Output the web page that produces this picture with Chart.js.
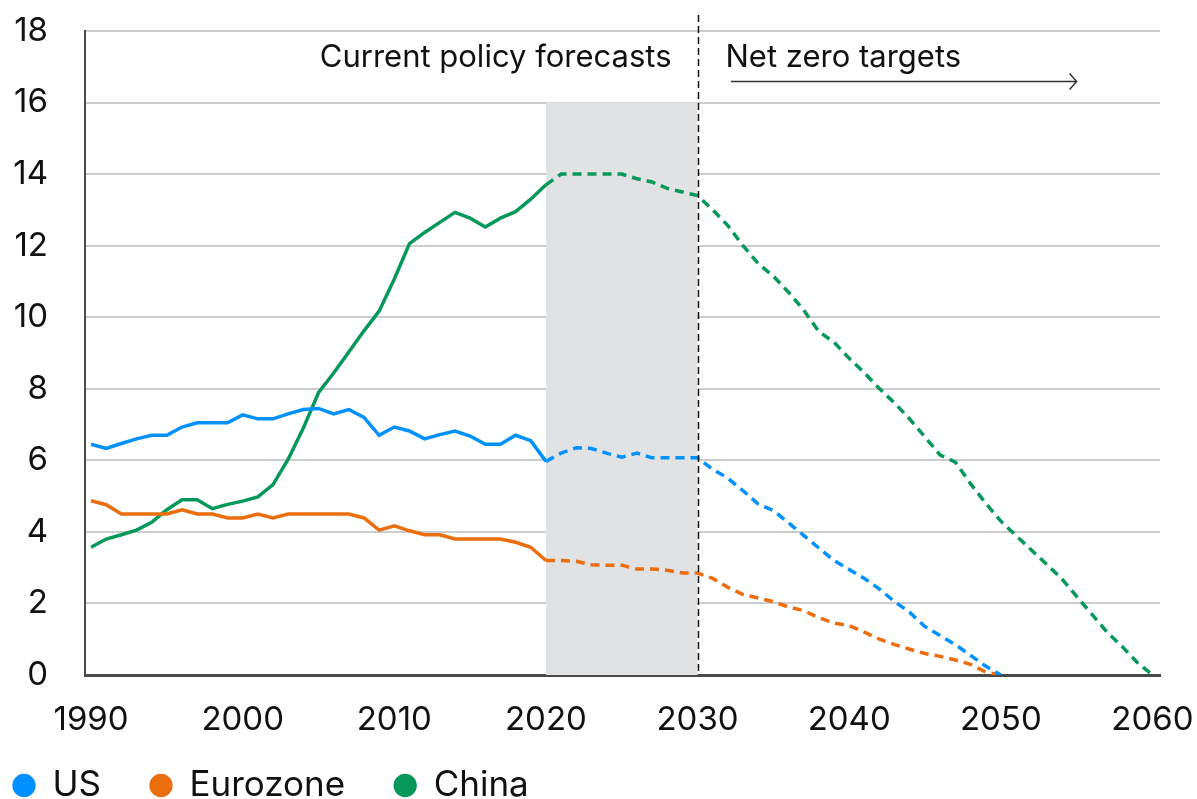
<!DOCTYPE html>
<html lang="en">
  <head>
    <meta charset="UTF-8" />
    <title>Emissions: current policy forecasts vs net zero targets</title>
    <script src="https://cdn.jsdelivr.net/npm/chart.js"></script>
    <style>
      html,
      body {
        margin: 0;
        padding: 0;
        background: #ffffff;
      }
      .chart-wrap {
        width: 1197px;
        height: 799px;
      }
    </style>
  </head>
  <body>
    <div class="chart-wrap"><canvas id="emissionsChart"></canvas></div>

    <script>
      var years = [
        1990, 1991, 1992, 1993, 1994, 1995, 1996, 1997, 1998, 1999,
        2000, 2001, 2002, 2003, 2004, 2005, 2006, 2007, 2008, 2009,
        2010, 2011, 2012, 2013, 2014, 2015, 2016, 2017, 2018, 2019,
        2020, 2021, 2022, 2023, 2024, 2025, 2026, 2027, 2028, 2029,
        2030, 2031, 2032, 2033, 2034, 2035, 2036, 2037, 2038, 2039,
        2040, 2041, 2042, 2043, 2044, 2045, 2046, 2047, 2048, 2049,
        2050, 2051, 2052, 2053, 2054, 2055, 2056, 2057, 2058, 2059,
        2060,
      ];

      // US and Eurozone reach zero in 2050, China in 2060
      var usValues = [
        6.45, 6.33, 6.47, 6.6, 6.7, 6.7, 6.93, 7.05, 7.05, 7.05,
        7.27, 7.16, 7.16, 7.3, 7.42, 7.45, 7.3, 7.42, 7.2, 6.7,
        6.93, 6.82, 6.6, 6.72, 6.82, 6.68, 6.45, 6.45, 6.7, 6.55,
        5.97, 6.2, 6.35, 6.33, 6.2, 6.09, 6.2, 6.07, 6.07, 6.07,
        6.07, 5.75, 5.5, 5.15, 4.78, 4.6, 4.25, 3.9, 3.55, 3.2,
        2.95, 2.7, 2.4, 2.05, 1.75, 1.35, 1.1, 0.85, 0.55, 0.25,
        0,
      ];
      var eurozoneValues = [
        4.87, 4.76, 4.5, 4.5, 4.5, 4.5, 4.62, 4.5, 4.5, 4.39,
        4.39, 4.5, 4.39, 4.5, 4.5, 4.5, 4.5, 4.5, 4.39, 4.05,
        4.17, 4.03, 3.92, 3.92, 3.8, 3.8, 3.8, 3.8, 3.71, 3.57,
        3.2, 3.2, 3.18, 3.08, 3.07, 3.07, 2.96, 2.96, 2.93, 2.85,
        2.85, 2.7, 2.45, 2.25, 2.15, 2.05, 1.9, 1.8, 1.6, 1.45,
        1.38, 1.2, 1.0, 0.85, 0.72, 0.6, 0.52, 0.42, 0.3, 0.08,
        0,
      ];
      var chinaValues = [
        3.57, 3.8, 3.92, 4.05, 4.27, 4.62, 4.9, 4.9, 4.65, 4.77,
        4.86, 4.98, 5.32, 6.03, 6.9, 7.89, 8.44, 9.03, 9.62, 10.17,
        11.07, 12.06, 12.37, 12.65, 12.93, 12.77, 12.52, 12.77, 12.95, 13.3,
        13.7, 14.0, 14.0, 14.0, 14.0, 14.0, 13.87, 13.78, 13.6, 13.5,
        13.4, 13.0, 12.56, 12.0, 11.5, 11.15, 10.7, 10.2, 9.6, 9.3,
        8.85, 8.45, 8.0, 7.6, 7.15, 6.65, 6.15, 5.95, 5.35, 4.8,
        4.3, 3.9, 3.5, 3.1, 2.7, 2.2, 1.7, 1.2, 0.8, 0.35,
        0,
      ];

      var xTicks = [1990, 2000, 2010, 2020, 2030, 2040, 2050, 2060];
      var forecastStart = 2020;
      var netZeroStart = 2030;
      var shadeTop = 16;

      var FONT = "Inter";
      var colors = {
        us: "rgb(0, 145, 255)",
        eurozone: "rgb(234, 110, 14)",
        china: "rgb(6, 152, 90)",
      };

      function toPoints(values) {
        return values.map(function (v, i) {
          return { x: years[i], y: v };
        });
      }

      function seriesDataset(label, values, color) {
        return {
          label: label,
          data: toPoints(values),
          borderColor: color,
          backgroundColor: color,
          borderWidth: 3.5,
          pointRadius: 0,
          tension: 0,
          segment: {
            // forecasts are dashed
            borderDash: function (ctx) {
              return ctx.p0.parsed.x >= forecastStart ? [9, 6] : undefined;
            },
          },
        };
      }

      var periodPlugin = {
        id: "periodPlugin",
        afterLayout: function (chart) {
          // nudge the legend to the bottom-left corner like the original
          chart.legend.left -= 36;
          chart.legend.top += 14;
          // let the year labels spill below the (thin) x axis box
          chart.scales.x.bottom = chart.height;
        },
        beforeDatasetsDraw: function (chart) {
          var ctx = chart.ctx;
          var x = chart.scales.x;
          var y = chart.scales.y;
          var left = x.getPixelForValue(forecastStart);
          var right = x.getPixelForValue(netZeroStart);
          var top = y.getPixelForValue(shadeTop);
          var bottom = y.getPixelForValue(0);
          ctx.save();
          ctx.fillStyle = "#e1e2e4";
          ctx.fillRect(left, top, right - left, bottom - top);
          ctx.restore();
        },
        afterDatasetsDraw: function (chart) {
          var ctx = chart.ctx;
          var area = chart.chartArea;
          var x = chart.scales.x;
          var y = chart.scales.y;
          var divX = Math.round(x.getPixelForValue(netZeroStart)) + 0.5;

          ctx.save();
          // dashed divider
          ctx.strokeStyle = "#111";
          ctx.lineWidth = 1.5;
          ctx.setLineDash([7, 4]);
          ctx.beginPath();
          ctx.moveTo(divX, area.top - 16);
          ctx.lineTo(divX, area.bottom);
          ctx.stroke();
          ctx.setLineDash([]);

          // labels
          ctx.fillStyle = "#111";
          ctx.font = "31px " + FONT;
          ctx.textBaseline = "alphabetic";
          var textY = y.getPixelForValue(17);
          ctx.textAlign = "right";
          ctx.fillText("Current policy forecasts", divX - 27, textY);
          ctx.textAlign = "left";
          ctx.fillText("Net zero targets", divX + 27, textY);

          // arrow
          var arrowY = Math.round(y.getPixelForValue(16.6)) + 0.5;
          var x1 = x.getPixelForValue(2032.2);
          var x2 = x.getPixelForValue(2055);
          ctx.strokeStyle = "#333";
          ctx.lineWidth = 1.5;
          ctx.beginPath();
          ctx.moveTo(x1, arrowY);
          ctx.lineTo(x2, arrowY);
          ctx.moveTo(x2 - 7, arrowY - 8);
          ctx.lineTo(x2, arrowY);
          ctx.lineTo(x2 - 7, arrowY + 8);
          ctx.stroke();
          ctx.restore();
        },
      };

      var emissionsCtx = document
        .getElementById("emissionsChart")
        .getContext("2d");
      var emissionsChart = new Chart(emissionsCtx, {
        type: "line",
        data: {
          datasets: [
            seriesDataset("US", usValues, colors.us),
            seriesDataset("Eurozone", eurozoneValues, colors.eurozone),
            seriesDataset("China", chinaValues, colors.china),
          ],
        },
        options: {
          responsive: true,
          maintainAspectRatio: false,
          animation: false,
          layout: {
            padding: { top: 31, right: 37, left: 0, bottom: 0 },
          },
          plugins: {
            tooltip: { enabled: false },
            legend: {
              position: "bottom",
              align: "start",
              labels: {
                usePointStyle: true,
                pointStyle: "circle",
                boxWidth: 22,
                boxHeight: 14,
                padding: 49,
                color: "#111",
                font: { family: FONT, size: 35 },
              },
            },
          },
          scales: {
            x: {
              type: "linear",
              min: 1989.6,
              max: 2060.5,
              afterBuildTicks: function (scale) {
                scale.ticks = xTicks.map(function (v) {
                  return { value: v };
                });
              },
              afterFit: function (scale) {
                scale.height = 30;
                scale.paddingLeft = 0;
                scale.paddingRight = 0;
              },
              grid: { display: false, drawTicks: false },
              border: { display: true, color: "#4a4a4a", width: 3 },
              ticks: {
                padding: 25,
                maxRotation: 0,
                color: "#111",
                font: { family: FONT, size: 33 },
                callback: function (v) {
                  return String(v);
                },
              },
            },
            y: {
              min: 0,
              max: 18,
              afterFit: function (scale) {
                scale.width = 85;
                scale.paddingTop = 0;
                scale.paddingBottom = 0;
              },
              grid: { color: "#cdcdcd", lineWidth: 2, drawTicks: false },
              border: { display: true, color: "#4a4a4a", width: 2 },
              ticks: {
                stepSize: 2,
                padding: 37,
                color: "#111",
                font: { family: FONT, size: 33 },
              },
            },
          },
        },
        plugins: [periodPlugin],
      });
    </script>
  </body>
</html>
